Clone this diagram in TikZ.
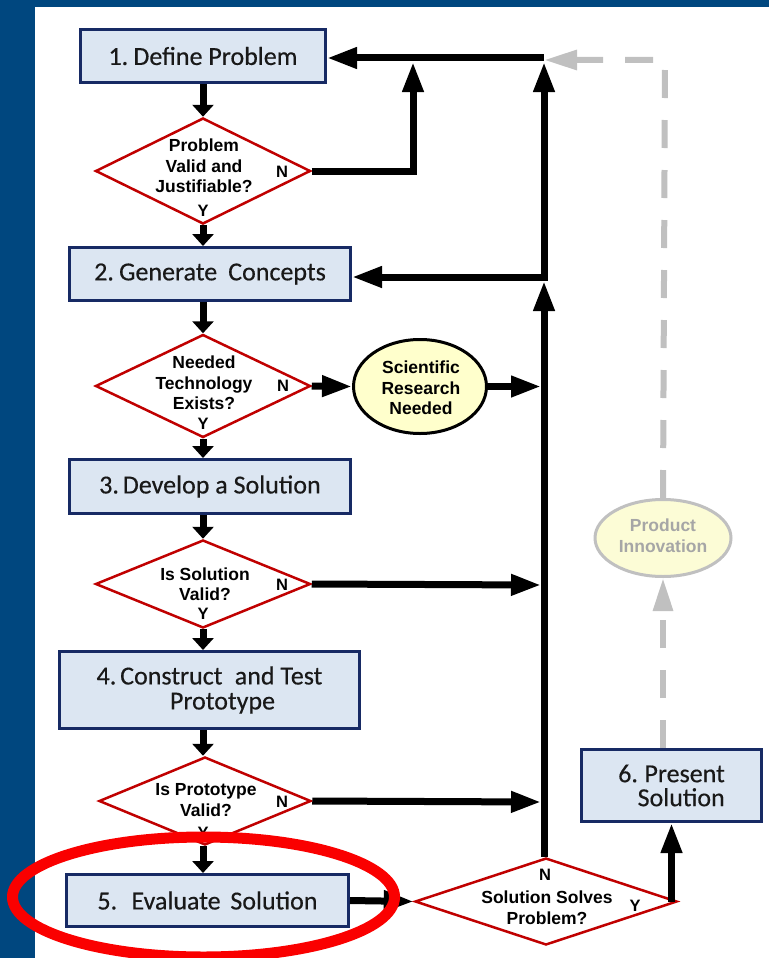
\documentclass[tikz,border=0pt]{standalone}
\usepackage{fontspec}
\setmainfont{Carlito}[FakeBold=0.4]
\newfontfamily\arialf{Liberation Sans}
\usetikzlibrary{shapes.geometric,arrows.meta,calc}
\definecolor{bgblue}{RGB}{0,71,127}
\definecolor{boxfill}{RGB}{220,230,242}
\definecolor{boxline}{RGB}{23,42,100}
\definecolor{diared}{RGB}{192,0,0}
\definecolor{ellfill}{RGB}{255,255,204}
\definecolor{pifill}{RGB}{252,252,214}
\definecolor{grayline}{RGB}{192,192,192}
\definecolor{graytext}{RGB}{166,166,166}
\definecolor{hlred}{RGB}{250,0,0}
\tikzset{
  box/.style={draw=boxline, line width=3pt, fill=boxfill, inner sep=0pt, align=center,
    text=black!90, font=\fontsize{26}{26}\selectfont},
  dia/.style={diamond, draw=diared, line width=2.5pt, fill=white, inner sep=0pt},
  dtext/.style={align=center, text=black, inner sep=0pt, font=\arialf\bfseries\fontsize{17.5}{20.5}\selectfont},
  yn/.style={text=black, inner sep=0pt, font=\arialf\bfseries\fontsize{16.5}{16.5}\selectfont},
  ell/.style={ellipse, draw=black, line width=3pt, fill=ellfill, inner sep=0pt},
  gell/.style={ellipse, draw=grayline, line width=3pt, fill=pifill, inner sep=0pt},
  arr/.style={line width=7pt, -{Triangle[length=30pt,width=20pt]}},
  sarr/.style={line width=7pt, -{Triangle[length=12pt,width=21pt]}},
  garr/.style={draw=grayline, line width=6pt, dash pattern=on 28pt off 22pt, -{Triangle[length=33pt,width=19pt]}},
  hl/.style={ellipse, draw=hlred, line width=11pt, inner sep=0pt}
}
\begin{document}
\begin{tikzpicture}[x=1pt,y=-1pt]
\useasboundingbox (0,0) rectangle (769,958);
\fill[bgblue] (0,0) rectangle (769,958);
\fill[white] (35,7) rectangle (769,958);

% boxes
\node[box, minimum width=245pt, minimum height=53pt] (b1) at (203,56) {1.\hspace{0.2em}Define Problem};
\node[box, minimum width=281pt, minimum height=53pt] (b2) at (210,274) {2.\hspace{0.2em}Generate\hspace{0.2em} Concepts};
\node[box, minimum width=281pt, minimum height=54pt] (b3) at (210,486.5) {3.\hspace{0.15em}Develop a Solution};
\node[box, minimum width=300pt, minimum height=77pt, font=\fontsize{26}{25}\selectfont] (b4) at (209.5,690) {4.\hspace{0.15em}Construct\hspace{0.25em} and Test\\\hspace{1em}Prototype};
\node[box, minimum width=282pt, minimum height=52pt] (b5) at (207.5,900.5) {5.\hspace{0.25em} Evaluate\hspace{0.15em} Solution};
\node[box, minimum width=180pt, minimum height=72pt, align=right, font=\fontsize{26}{24}\selectfont] (b6) at (671.5,785.5) {6.\hspace{0.25em}Present\\Solution};

% diamonds
\node[dia, minimum width=215pt, minimum height=106pt] (d1) at (203,171) {};
\node[dtext] (d1t) at (204,166) {Problem\\Valid and\\Justifiable?};
\node[yn] (d1n) at (282,172) {N};
\node[yn] (d1y) at (203,211) {Y};

\node[dia, minimum width=215pt, minimum height=103pt] (d2) at (203,386) {};
\node[dtext] (d2t) at (204,383) {Needed\\Technology\\Exists?};
\node[yn] (d2n) at (283,386) {N};
\node[yn] (d2y) at (203,424) {Y};

\node[dia, minimum width=215pt, minimum height=88pt] (d3) at (203,584) {};
\node[dtext] (d3t) at (205,584) {Is Solution\\Valid?};
\node[yn] (d3n) at (282,585) {N};
\node[yn] (d3y) at (203,614) {Y};

\node[dia, minimum width=212pt, minimum height=88pt] (d4) at (205,801) {};
\node[dtext] (d4t) at (206,800) {Is Prototype\\Valid?};
\node[yn] (d4n) at (282,802) {N};
\node[yn] (d4y) at (203,833) {Y};

\node[dia, minimum width=262pt, minimum height=87pt] (d5) at (546,901.5) {};
\node[dtext] (d5t) at (547,907.5) {Solution Solves\\Problem?};
\node[yn] (d5n) at (545,875) {N};
\node[yn] (d5y) at (635,906) {Y};

% ellipses
\node[ell, minimum width=133pt, minimum height=94pt] (e1) at (420,386.5) {};
\node[dtext] (e1t) at (421,388) {Scientific\\Research\\Needed};
\node[gell, minimum width=136pt, minimum height=77pt] (pi) at (663,538) {};
\node[dtext, text=graytext] (pit) at (663,535.5) {Product\\Innovation};

% coordinates
\coordinate (tr) at (544,58);
\coordinate (trg) at (544,60);
\coordinate (c1) at (413,62);
\coordinate (m2) at (544,277);
\coordinate (m2t) at (544,281);
\coordinate (m2s) at (544,62);
\coordinate (j1) at (541,386.5);
\coordinate (j3) at (541,585);
\coordinate (j4) at (541,802);
\coordinate (gtop) at (665,60);

% black connectors
\draw[sarr] (b1.south -| d1.north) -- (d1.north);
\draw[sarr] (d1.south) -- (d1.south |- b2.north);
\draw[arr] (d1.east) -| (c1);
\draw[arr] (tr) -- (b1.east |- tr);
\draw[arr] (m2) -- (b2.east |- m2);
\draw[arr] (d5.north -| m2) -- (m2t);
\draw[arr] (m2t) -- (m2s);
\draw[sarr] (b2.south -| d2.north) -- (d2.north);
\draw[arr] (d2.east) -- (e1.west);
\draw[arr] (e1.east) -- (j1);
\draw[sarr] (d2.south) -- (d2.south |- b3.north);
\draw[sarr] (b3.south -| d3.north) -- (d3.north);
\draw[arr] (d3.east) -- (j3);
\draw[sarr] (d3.south) -- (d3.south |- b4.north);
\draw[sarr] (b4.south -| d3.south) -- (d3.south |- d4.north);
\draw[arr] (d4.east) -- (j4);
\draw[sarr] (d3.south |- d4.south) -- (d3.south |- b5.north);
\draw[arr] (b5.east) -- (d5.west);
\draw[arr] (b6.south |- d5.east) -- (b6.south);

% gray dashed connectors
\draw[garr] (b6.north -| pi.south) -- (pi.south);
\draw[garr] (pi.north) -- (gtop) -- (trg);

% highlight
\node[hl, minimum width=382pt, minimum height=120pt] (hl) at (203.5,897) {};
\end{tikzpicture}
\end{document}
